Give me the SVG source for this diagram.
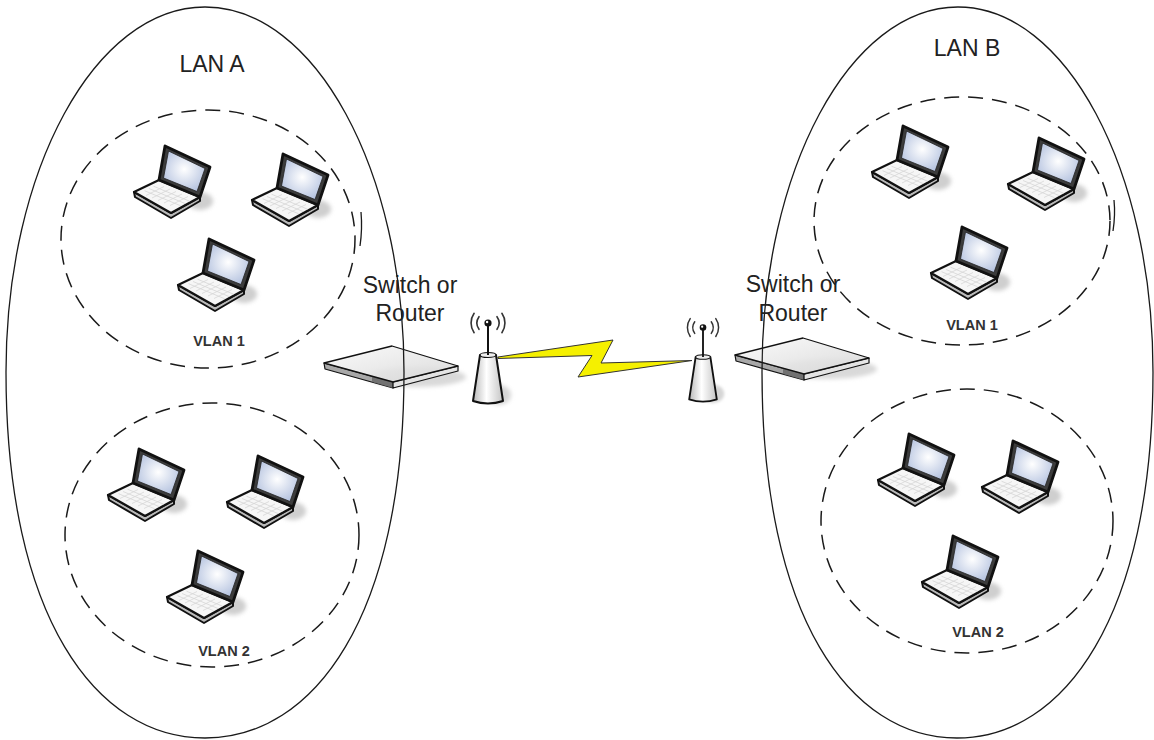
<svg xmlns="http://www.w3.org/2000/svg" xmlns:xlink="http://www.w3.org/1999/xlink" width="1154" height="740" viewBox="0 0 1154 740">
  <style>
    .lan { fill: none; stroke: #1a1a1a; stroke-width: 1.3; }
    .vlan { fill: none; stroke: #1a1a1a; stroke-width: 1.5; stroke-dasharray: 15 9; }
    .title { font-family: "Liberation Sans", Arial, sans-serif; font-size: 23px; fill: #222; text-anchor: middle; }
    .vlabel { font-family: "Liberation Sans", Arial, sans-serif; font-size: 14.5px; font-weight: bold; fill: #333; text-anchor: middle; }
    .outline { stroke: #111; stroke-linejoin: round; }
    .wave { fill: none; stroke: #333; stroke-width: 1.6; stroke-linecap: round; }
  </style>
  <defs>
    <radialGradient id="screen" cx="0.5" cy="0.45" r="0.6">
      <stop offset="0" stop-color="#ffffff"/>
      <stop offset="1" stop-color="#b4c2df"/>
    </radialGradient>
    <linearGradient id="switchTop" x1="0" y1="0" x2="1" y2="1">
      <stop offset="0" stop-color="#fafafa"/>
      <stop offset="1" stop-color="#d6d6d6"/>
    </linearGradient>
    <linearGradient id="antBody" x1="0" y1="0" x2="1" y2="0">
      <stop offset="0" stop-color="#b8b8b8"/>
      <stop offset="0.45" stop-color="#ffffff"/>
      <stop offset="1" stop-color="#c4c4c4"/>
    </linearGradient>
    <filter id="soft" x="-50%" y="-50%" width="200%" height="200%">
      <feGaussianBlur stdDeviation="2"/>
    </filter>

    <!-- notebook computer icon, origin at top-left of its box -->
    <g id="laptop">
      <ellipse cx="70" cy="61" rx="13" ry="9" fill="#cfcfcf" filter="url(#soft)"/>
      <polygon class="outline" points="4,52 41,73 70,57 70,61 41,78 5,57" fill="#b9b9b9" stroke-width="2"/>
      <polygon class="outline" points="29,40 4,52 41,73 70,57" fill="#f6f6f6" stroke-width="2.2"/>
      <g stroke="#d6d6d6" stroke-width="0.8">
        <line x1="34" y1="46.5" x2="16" y2="55.5"/>
        <line x1="40" y1="49" x2="22" y2="58"/>
        <line x1="46" y1="51.5" x2="28" y2="60.5"/>
        <line x1="52" y1="54" x2="34" y2="63"/>
        <line x1="58" y1="56.5" x2="40" y2="65.5"/>
        <line x1="23.5" y1="46.2" x2="59.5" y2="61.2"/>
        <line x1="19" y1="48.5" x2="55" y2="63.5"/>
        <line x1="14.5" y1="50.7" x2="50.5" y2="65.7"/>
      </g>
      <polygon class="outline" points="35,6 80,27 70,57 29,40" fill="#3c3c3c" stroke-width="2.8"/>
      <polygon points="38.5,11 75,28.5 67,51.5 33.5,38" fill="url(#screen)" stroke="#222" stroke-width="0.8"/>
    </g>

    <!-- flat rack switch / router box -->
    <g id="switchbox">
      <ellipse cx="92" cy="14" rx="50" ry="10" fill="#d9d9d9" filter="url(#soft)"/>
      <g fill-opacity="0.88">
        <path class="outline" d="M0,0 L69,19 L69,25 L1,6 Z" fill="#9c9c9c" stroke-width="1.2"/>
        <path d="M48,13 L69,19 L69,25 L48,19 Z" fill="#6a6a6a"/>
        <path class="outline" d="M69,19 L134,3 L134,8 L69,25 Z" fill="#e4e4e4" stroke-width="1.2"/>
        <path class="outline" d="M0,0 L68,-17 L134,3 L69,19 Z" fill="url(#switchTop)" stroke-width="1.3"/>
      </g>
    </g>

    <!-- wireless access point, origin at the top of its base -->
    <g id="antenna">
      <ellipse cx="11" cy="40" rx="12" ry="10" fill="#d6d6d6" filter="url(#soft)"/>
      <path class="outline" d="M-8,0 L8,0 L15,46 Q0,51 -15,46 Z" fill="url(#antBody)" stroke-width="2"/>
      <ellipse cx="0" cy="0" rx="8" ry="2.5" fill="#eeeeee" stroke="#111" stroke-width="1.2"/>
      <line x1="0" y1="0" x2="0" y2="-30" stroke="#111" stroke-width="2"/>
      <circle cx="0" cy="-32" r="3.6" fill="#111"/>
      <circle cx="-0.9" cy="-33" r="1.2" fill="#fff"/>
      <path class="wave" d="M-9,-38.3 A11,11 0 0 0 -9,-25.7"/>
      <path class="wave" d="M-13.9,-41.7 A17,17 0 0 0 -13.9,-22.3"/>
      <path class="wave" d="M9,-38.3 A11,11 0 0 1 9,-25.7"/>
      <path class="wave" d="M13.9,-41.7 A17,17 0 0 1 13.9,-22.3"/>
    </g>
  </defs>

  <rect width="1154" height="740" fill="#ffffff"/>

  <!-- switches sit under the LAN outlines -->
  <g id="switch-a"><use xlink:href="#switchbox" transform="translate(324,363)"/></g>
  <g id="switch-b"><use xlink:href="#switchbox" transform="translate(735,355)"/></g>

  <!-- LAN A -->
  <g id="lan-a">
    <path class="lan" d="M6,372 C6,170 95,7 205,7 C315,7 404,170 404,372 C404,617 314,738 205,738 C96,738 6,617 6,372 Z"/>
    <text class="title" x="212" y="72">LAN A</text>
  </g>
  <g id="vlan-a1">
    <ellipse class="vlan" cx="208" cy="239" rx="147" ry="129"/>
    <path d="M361,212 Q362.5,229 360,246" fill="none" stroke="#1a1a1a" stroke-width="1.3"/>
    <use xlink:href="#laptop" transform="translate(130,140)"/>
    <use xlink:href="#laptop" transform="translate(248,148)"/>
    <use xlink:href="#laptop" transform="translate(174,233)"/>
    <text class="vlabel" x="219" y="346">VLAN 1</text>
  </g>
  <g id="vlan-a2">
    <ellipse class="vlan" cx="212" cy="535" rx="147" ry="132"/>
    <use xlink:href="#laptop" transform="translate(104,443)"/>
    <use xlink:href="#laptop" transform="translate(223,450)"/>
    <use xlink:href="#laptop" transform="translate(163,545)"/>
    <text class="vlabel" x="224" y="656">VLAN 2</text>
  </g>

  <!-- LAN B -->
  <g id="lan-b">
    <path class="lan" d="M762,372 C762,170 850,7 958,7 C1066,7 1153,170 1153,372 C1153,617 1064,738 957,738 C850,738 762,617 762,372 Z"/>
    <text class="title" x="967" y="56">LAN B</text>
  </g>
  <g id="vlan-b1">
    <ellipse class="vlan" cx="962" cy="221" rx="148" ry="124"/>
    <path d="M1114,200 Q1115.5,215 1113,231" fill="none" stroke="#1a1a1a" stroke-width="1.3"/>
    <use xlink:href="#laptop" transform="translate(868,120)"/>
    <use xlink:href="#laptop" transform="translate(1004,132)"/>
    <use xlink:href="#laptop" transform="translate(927,221)"/>
    <text class="vlabel" x="972" y="330">VLAN 1</text>
  </g>
  <g id="vlan-b2">
    <ellipse class="vlan" cx="967" cy="521" rx="146" ry="132"/>
    <use xlink:href="#laptop" transform="translate(874,428)"/>
    <use xlink:href="#laptop" transform="translate(978,435)"/>
    <use xlink:href="#laptop" transform="translate(918,530)"/>
    <text class="vlabel" x="978" y="637">VLAN 2</text>
  </g>

  <!-- switch labels -->
  <g id="switch-a-label">
    <text class="title" x="410" y="293">Switch or</text>
    <text class="title" x="410" y="321">Router</text>
  </g>
  <g id="switch-b-label">
    <text class="title" x="793" y="292">Switch or</text>
    <text class="title" x="793" y="321">Router</text>
  </g>

  <!-- access points -->
  <g id="antenna-a"><use xlink:href="#antenna" transform="translate(488,355)"/></g>
  <g id="antenna-b"><use xlink:href="#antenna" transform="translate(703,357) scale(0.92)"/></g>

  <!-- wireless link between the two access points -->
  <g id="connectors">
    <polygon id="wireless-link" points="498,357 613,340 601,363 692,360.5 578,377 592,355.5 498,358.5" fill="#f5f000" stroke="#333" stroke-width="1" stroke-linejoin="miter"/>
  </g>
</svg>
